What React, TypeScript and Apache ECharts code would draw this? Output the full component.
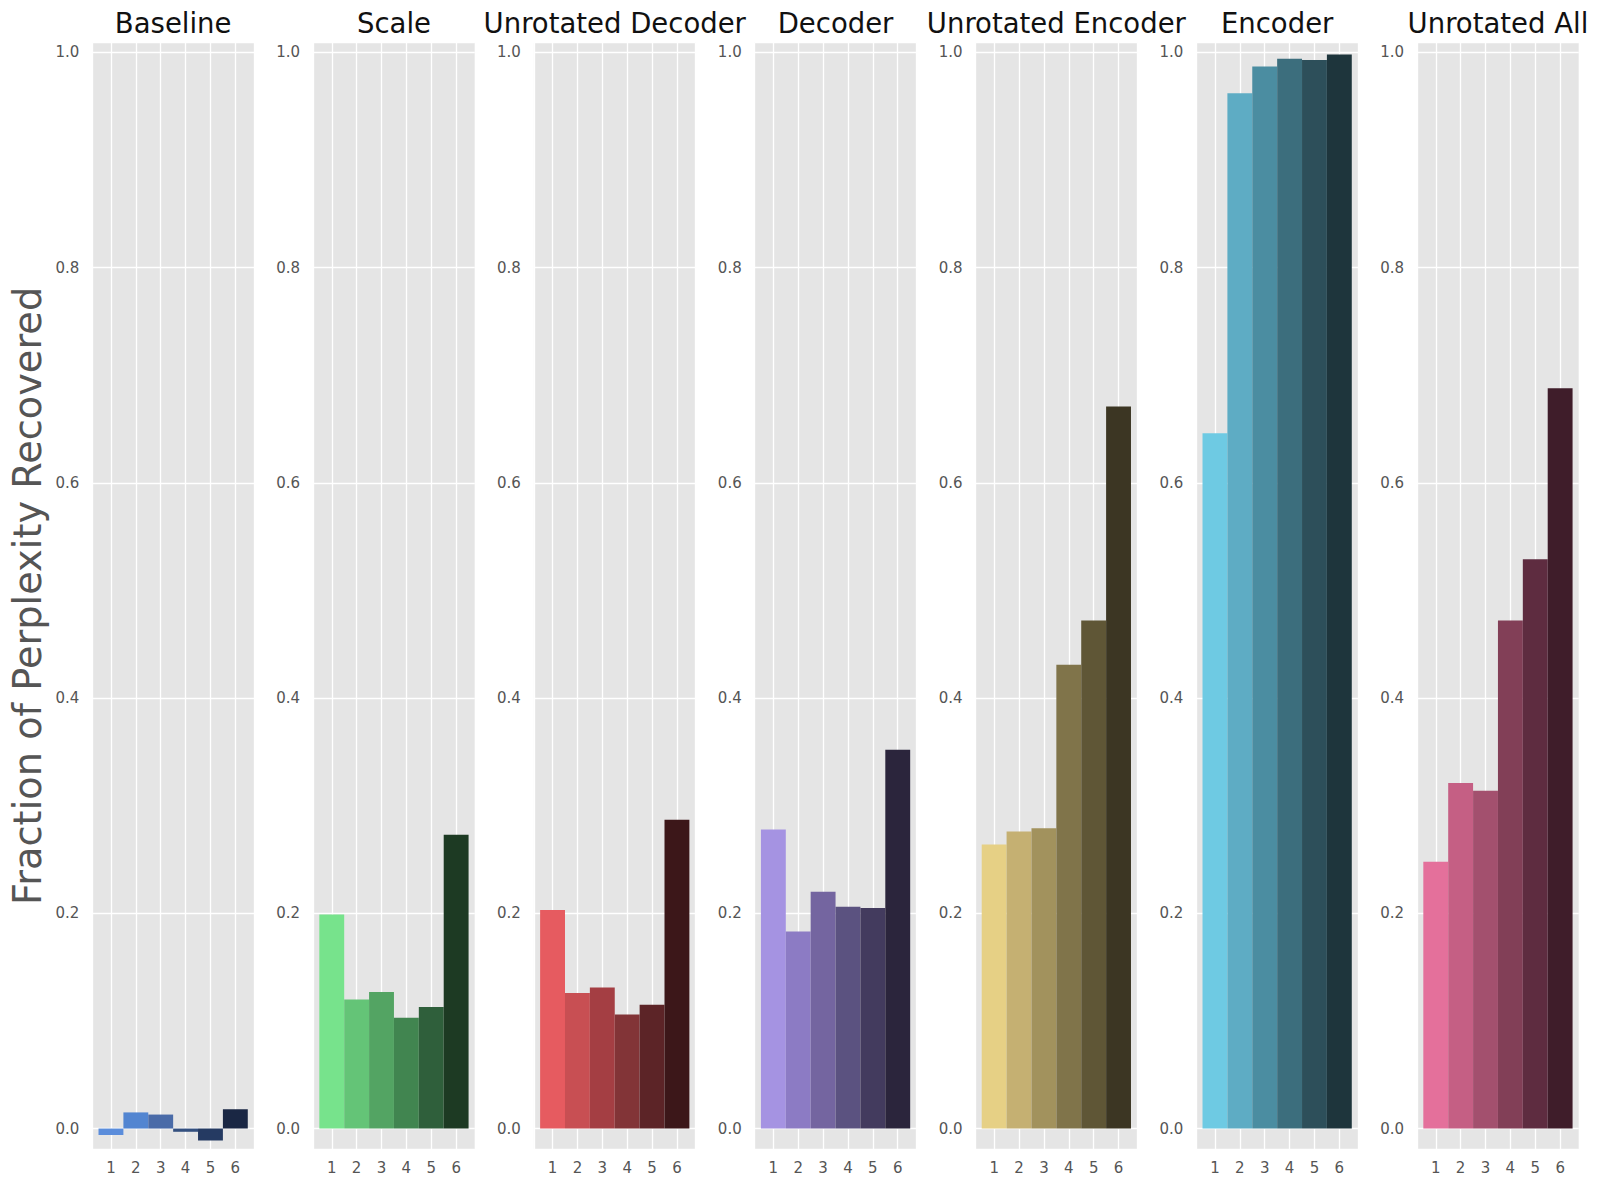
import React, { useEffect, useRef } from "react";
import * as echarts from "echarts";

const panelTitles = [
  "Baseline",
  "Scale",
  "Unrotated Decoder",
  "Decoder",
  "Unrotated Encoder",
  "Encoder",
  "Unrotated All",
];
const xCategories = [1, 2, 3, 4, 5, 6];
const yTicks = [0.0, 0.2, 0.4, 0.6, 0.8, 1.0];
const yAxisTitle = "Fraction of Perplexity Recovered";

const baselineValues = [-0.006, 0.015, 0.013, -0.003, -0.011, 0.018];
const scaleValues = [0.199, 0.12, 0.127, 0.103, 0.113, 0.273];
const unrotatedDecoderValues = [0.203, 0.126, 0.131, 0.106, 0.115, 0.287];
const decoderValues = [0.278, 0.183, 0.22, 0.206, 0.205, 0.352];
const unrotatedEncoderValues = [0.264, 0.276, 0.279, 0.431, 0.472, 0.671];
const encoderValues = [0.646, 0.962, 0.987, 0.994, 0.993, 0.998];
const unrotatedAllValues = [0.248, 0.321, 0.314, 0.472, 0.529, 0.688];

const baselineColors = ["#5b8ddb", "#5285d1", "#4a6ba8", "#34507f", "#253a62", "#1a2744"];
const scaleColors = ["#77e38c", "#64c477", "#53a463", "#418550", "#2f5f3b", "#1d3a23"];
const unrotatedDecoderColors = ["#e65b60", "#c84f53", "#a43e43", "#823437", "#5c2427", "#3c1719"];
const decoderColors = ["#a593e2", "#8c7bc4", "#7465a0", "#5b5280", "#433b5e", "#2b253c"];
const unrotatedEncoderColors = ["#e6d085", "#c5b072", "#a2925d", "#80744a", "#5f5636", "#3c3623"];
const encoderColors = ["#6ecae3", "#5eacc4", "#4b8da1", "#3c6e7d", "#2d4f5a", "#1e353c"];
const unrotatedAllColors = ["#e4709b", "#c55f84", "#a3506e", "#823f57", "#5e2c40", "#3f1d2a"];

const panelValues = [
  baselineValues,
  scaleValues,
  unrotatedDecoderValues,
  decoderValues,
  unrotatedEncoderValues,
  encoderValues,
  unrotatedAllValues,
];
const panelColors = [
  baselineColors,
  scaleColors,
  unrotatedDecoderColors,
  decoderColors,
  unrotatedEncoderColors,
  encoderColors,
  unrotatedAllColors,
];

const FONT = "DejaVu Sans";

export default function App() {
  const ref = useRef<HTMLDivElement>(null);

  useEffect(() => {
    document.body.style.margin = "0";
    if (!ref.current) return;
    const chart = echarts.init(ref.current, null, { renderer: "svg" });

    const gridLeft0 = 92.3;
    const gridStep = 220.8;
    const gridWidth = 161.7;
    const gridTop = 42.7;
    const gridHeight = 1106.3;

    const grids: any[] = [];
    const xAxes: any[] = [];
    const yAxes: any[] = [];
    const series: any[] = [];
    const titles: any[] = [];

    panelTitles.forEach((t, i) => {
      const left = gridLeft0 + i * gridStep;
      grids.push({
        left,
        top: gridTop,
        width: gridWidth,
        height: gridHeight,
        show: true,
        backgroundColor: "#e5e5e5",
        borderWidth: 0,
      });
      titles.push({
        text: t,
        left: left + gridWidth / 2,
        top: 9,
        textAlign: "center",
        padding: 0,
        textStyle: {
          fontFamily: FONT,
          fontSize: 27.5,
          fontWeight: "normal",
          color: "#111111",
        },
      });
      xAxes.push({
        type: "value",
        gridIndex: i,
        min: 0.25,
        max: 6.75,
        axisLine: { show: false },
        axisTick: { show: false },
        axisLabel: {
          fontFamily: FONT,
          fontSize: 15,
          color: "#555555",
          margin: 11,
          formatter: (v: number) =>
            xCategories.some((c) => Math.abs(c - v) < 1e-6) ? String(Math.round(v)) : "",
        },
        splitLine: { show: true, lineStyle: { color: "#ffffff", width: 1.3 } },
      });
      yAxes.push({
        type: "value",
        gridIndex: i,
        min: -0.019,
        max: 1.009,
        name: i === 0 ? yAxisTitle : "",
        nameLocation: "middle",
        nameGap: 46,
        nameTextStyle: {
          fontFamily: FONT,
          fontSize: 38.3,
          color: "#555555",
        },
        axisLine: { show: false },
        axisTick: { show: false },
        axisLabel: {
          fontFamily: FONT,
          fontSize: 15,
          color: "#555555",
          margin: 13,
          formatter: (v: number) =>
            yTicks.some((c) => Math.abs(c - v) < 1e-6) ? v.toFixed(1) : "",
        },
        splitLine: { show: true, lineStyle: { color: "#ffffff", width: 1.3 } },
      });
      const colors = panelColors[i];
      series.push({
        type: "custom",
        xAxisIndex: i,
        yAxisIndex: i,
        data: xCategories.map((c, k) => [c, panelValues[i][k]]),
        renderItem: (params: any, api: any) => {
          const x = api.value(0);
          const v = api.value(1);
          const p1 = api.coord([x - 0.5, v]);
          const p2 = api.coord([x + 0.5, 0]);
          return {
            type: "rect",
            shape: {
              x: p1[0],
              y: Math.min(p1[1], p2[1]),
              width: p2[0] - p1[0],
              height: Math.abs(p2[1] - p1[1]),
            },
            style: { fill: colors[params.dataIndex] },
          };
        },
      });
    });

    chart.setOption({
      animation: false,
      backgroundColor: "#ffffff",
      title: titles,
      grid: grids,
      xAxis: xAxes,
      yAxis: yAxes,
      series,
    });

    return () => chart.dispose();
  }, []);

  return <div ref={ref} style={{ width: 1600, height: 1189 }} />;
}
